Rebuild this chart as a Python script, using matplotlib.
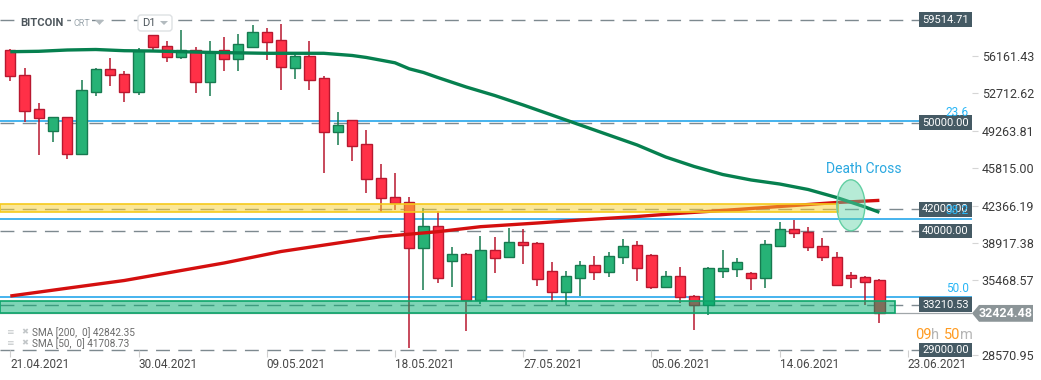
import pandas as pd
import matplotlib
matplotlib.use('Agg')
import matplotlib.pyplot as plt
import matplotlib.dates as mdates
import matplotlib.transforms as mtransforms
from matplotlib.patches import Rectangle, Ellipse, Polygon, FancyBboxPatch
from matplotlib.colors import to_rgba

plt.rcParams['font.family'] = ['Roboto', 'DejaVu Sans']

# daily BTC candles, 21.04.2021 - 21.06.2021
dates = pd.date_range('2021-04-21', '2021-06-21', freq='D')
opens = [56706, 54401, 51239, 49210, 50501, 47090, 52861, 54927, 54466, 52861,
         58089, 57075, 56088, 56706, 53783, 56706, 55849, 57010, 58338, 57628,
         55074, 56153, 54124, 49118, 50224, 48039, 44877, 43125, 42664, 38423,
         40479, 37279, 37870, 33656, 38266, 37593, 38976, 38884, 36330, 34421,
         35730, 36855, 36210, 37593, 38699, 37805, 34827, 35869, 34025, 33195,
         36357, 36487, 36118, 35657, 38662, 40175, 39898, 38662, 37648, 35989,
         35749, 35500]
highs = [56798, 55019, 51792, 50529, 50560, 53940, 55019, 55941, 54770, 56863,
         58100, 57536, 58550, 56955, 57536, 57932, 58181, 59011, 58707, 59076,
         56310, 57563, 54309, 50990, 50252, 49330, 46195, 45393, 43125, 42111,
         41889, 38570, 37989, 39557, 39437, 40322, 40202, 39031, 37160, 36357,
         37279, 37740, 38109, 39280, 39096, 37897, 36357, 36671, 34117, 36726,
         38266, 37528, 36210, 39188, 40875, 41032, 40359, 39345, 38054, 36238,
         35869, 35592]
lows = [53848, 50095, 47025, 48251, 46629, 47025, 52492, 53414, 51939, 52557,
        56706, 55627, 55849, 52769, 52492, 54797, 54797, 56983, 55784, 53018,
        54032, 53018, 45393, 47947, 46499, 43494, 41797, 41954, 29203, 34578,
        35251, 34882, 30825, 33287, 36173, 37528, 36975, 34974, 33499, 33195,
        34052, 35500, 35804, 36975, 35435, 34670, 34735, 33407, 30890, 32273,
        35712, 35804, 34578, 34735, 38570, 39400, 38201, 37279, 34993, 34735,
        33195, 31563]
closes = [54309, 51109, 50409, 50501, 47090, 53018, 54927, 54355, 52861, 56614,
          56955, 56088, 56706, 53783, 56549, 55849, 57232, 58338, 57471, 55166,
          56153, 53940, 49118, 49763, 47882, 44785, 43033, 42572, 38423, 40479,
          35657, 37870, 33656, 38266, 37574, 38976, 38755, 35565, 34421, 35869,
          36883, 36210, 37713, 38635, 36579, 34827, 35869, 33905, 33195, 36579,
          36579, 37132, 35657, 38792, 40175, 39806, 38570, 37593, 35039, 35657,
          35343, 32424.48]

sma50_dates = ['2021-04-21', '2021-04-23', '2021-04-25', '2021-04-27', '2021-04-29',
               '2021-05-01', '2021-05-05', '2021-05-09', '2021-05-13', '2021-05-15',
               '2021-05-16', '2021-05-18', '2021-05-19', '2021-05-20', '2021-05-21',
               '2021-05-23', '2021-05-25', '2021-05-27', '2021-05-30', '2021-06-01',
               '2021-06-04', '2021-06-06', '2021-06-08', '2021-06-10', '2021-06-12',
               '2021-06-14', '2021-06-16', '2021-06-18', '2021-06-20', '2021-06-21']
sma50_values = [56549, 56586, 56706, 56752, 56641, 56614, 56485, 56402, 56402, 56199,
                56015, 55526, 54973, 54632, 54171, 53295, 52511, 51635, 50252, 49330,
                47947, 46840, 45965, 45227, 44720, 44351, 43844, 43106, 42231, 41742]
sma200_dates = ['2021-04-21', '2021-04-25', '2021-04-29', '2021-05-03', '2021-05-06',
                '2021-05-10', '2021-05-14', '2021-05-17', '2021-05-21', '2021-05-24',
                '2021-05-28', '2021-05-31', '2021-06-04', '2021-06-07', '2021-06-11',
                '2021-06-15', '2021-06-18', '2021-06-21']
sma200_values = [34025, 34744, 35454, 36376, 37067, 38127, 38911, 39493, 39954, 40415,
                 40755, 41032, 41355, 41650, 42000, 42369, 42646, 42842]

level_values = [59514.71, 50000.00, 42000.00, 40000.00, 33210.53, 29000.00]
fib_labels = ['23.6', '38.2', '50.0']
fib_prices = [50118, 41100, 33892]
yellow_zone = (41746, 42485)
green_zone = (32414, 33578)
price_ticks = [56161.43, 52712.62, 49263.81, 45815.00, 42366.19, 38917.38, 35468.57, 28570.95]
date_ticks = pd.date_range('2021-04-21', periods=8, freq='9D')
last_price = 32424.48

W, H = 1041, 380
fig = plt.figure(figsize=(W / 100, H / 100), dpi=100)
ax = fig.add_axes([0, 1 - 357 / H, 972 / W, 357 / H])
to_fig = mtransforms.Affine2D().scale(1 / W, -1 / H).translate(0, 1) + fig.transFigure

x = mdates.date2num(dates)
x0 = x[0]
xmin, xmax = x0 - 0.723, x0 + 67.5
ymin, ymax = 28400.5, 61315.9
ax.set_xlim(xmin, xmax)
ax.set_ylim(ymin, ymax)
px_y = (ymax - ymin) / 357  # price per pixel

# horizontal levels
for lv in level_values:
    ax.axhline(lv, color='#7d898f', lw=1.0, ls=(0, (10, 6)), zorder=1)
for fp in fib_prices:
    ax.axhline(fp, color='#139fea', lw=1.1, zorder=1.5)
ax.axhline(last_price, color='#a0a6a9', lw=0.9, zorder=1.5)

# candles
up_face, up_edge = '#26b276', '#177a50'
dn_face, dn_edge = '#ff3047', '#b8182f'
for xi, o, h, l, c in zip(x, opens, highs, lows, closes):
    up = c >= o
    edge = up_edge if up else dn_edge
    face = up_face if up else dn_face
    ax.vlines(xi, l, h, color=edge, lw=1.1, zorder=2)
    ax.bar(xi, abs(c - o), bottom=min(o, c), width=0.72, color=face,
           edgecolor=edge, linewidth=1.0, zorder=2.1)

# moving averages
ax.plot(mdates.date2num(pd.to_datetime(sma200_dates)), sma200_values,
        color='#d40f0f', lw=2.4, zorder=3, solid_capstyle='butt')
ax.plot(mdates.date2num(pd.to_datetime(sma50_dates)), sma50_values,
        color='#06804f', lw=2.4, zorder=3, solid_capstyle='butt')

# support / resistance zones
yellow_end = x0 + 58.08
green_end = x0 + 62.1
ax.add_patch(Rectangle((xmin, yellow_zone[0]), yellow_end - xmin, yellow_zone[1] - yellow_zone[0],
                       facecolor=to_rgba('#f9d131', 0.5), edgecolor='#f5c91c', lw=1.2, zorder=4))
ax.add_patch(Rectangle((xmin, green_zone[0]), green_end - xmin, green_zone[1] - green_zone[0],
                       facecolor=to_rgba('#00ad6f', 0.5), edgecolor='#0ea56b', lw=1.2, zorder=4))

# death cross marker
ax.add_patch(Ellipse((x0 + 59.0, 42387), 1.97, 51 * px_y,
                     facecolor=to_rgba('#5fd3a4', 0.45), edgecolor='#62cfa3', lw=1.0, zorder=5))
ax.text(x0 + 59.93, 45730, 'Death Cross', color='#2aa8e0', fontsize=10,
        ha='center', va='center', zorder=6)

# level label boxes on the right
blend = mtransforms.blended_transform_factory(ax.transAxes, ax.transData)
for lv in level_values:
    ax.add_patch(Rectangle((919 / 972, lv - 7 * px_y), 53 / 972, 14.5 * px_y,
                           transform=blend, facecolor='#455a64', edgecolor='none',
                           zorder=6, clip_on=False))
    ax.text(945.5 / 972, lv, f'{lv:.2f}', transform=blend, color='white', fontsize=8,
            ha='center', va='center', zorder=7)
for lab, fp in zip(fib_labels, fib_prices):
    ax.text(969 / 972, fp + 9 * px_y, lab, transform=blend, color='#29b6f6', fontsize=8.5,
            ha='right', va='center', zorder=8)

# axes styling
for s in ax.spines.values():
    s.set_visible(False)
ax.yaxis.tick_right()
ax.set_yticks(price_ticks)
ax.set_yticklabels([f'{v:.2f}' for v in price_ticks])
ax.tick_params(axis='y', length=4, color='#d5d5d5', labelsize=9, labelcolor='#3a3a3a', pad=3)
ax.set_xticks(mdates.date2num(date_ticks))
ax.set_xticklabels([d.strftime('%d.%m.%Y') for d in date_ticks], ha='left')
ax.tick_params(axis='x', direction='in', length=5, color='#d0d0d0', labelsize=8.5,
               labelcolor='#474747', pad=1)

# current price tag
tag_tr = mtransforms.blended_transform_factory(fig.transFigure, ax.transData)
tag = Polygon([(972 / W, last_price), (979 / W, last_price + 8.4 * px_y),
               (1033 / W, last_price + 8.4 * px_y), (1033 / W, last_price - 8.4 * px_y),
               (979 / W, last_price - 8.4 * px_y)], closed=True, transform=tag_tr,
              facecolor='#8c9598', edgecolor='none', clip_on=False, zorder=9)
fig.add_artist(tag)
fig.text(1006 / W, last_price, f'{last_price:.2f}', transform=tag_tr, color='white',
         fontsize=9, fontweight='bold', ha='center', va='center', zorder=10)

# candle countdown
orange, grey = '#ff9b21', '#b5b5b5'
for xp, s, col in [(915, '09', orange), (931, 'h', grey), (944, '50', orange), (960, 'm', grey)]:
    fig.text(xp, 335, s, transform=to_fig, color=col, fontsize=10.5, ha='left', va='center')

# header
fig.text(20, 23, 'BITCOIN', transform=to_fig, color='#4d565c', fontsize=8, fontweight='bold',
         ha='left', va='center', bbox=dict(facecolor='white', edgecolor='none', pad=1.5))
fig.text(73, 24, 'CRT', transform=to_fig, color='#9ba6ad', fontsize=6.5, ha='left', va='center',
         bbox=dict(facecolor='white', edgecolor='none', pad=1.5))
fig.add_artist(Polygon([(95, 20), (104, 20), (99.5, 25)], closed=True, transform=to_fig,
                       facecolor='#b3bbbf', edgecolor='none'))
fig.add_artist(FancyBboxPatch((138, 15), 34, 16, boxstyle='round,pad=0,rounding_size=3',
                              transform=to_fig, facecolor='white', edgecolor='#dde1e3', lw=1))
fig.text(142, 23, 'D1', transform=to_fig, color='#4d565c', fontsize=8, ha='left', va='center')
fig.add_artist(Polygon([(160, 21), (168, 21), (164, 25)], closed=True, transform=to_fig,
                       facecolor='#b3bbbf', edgecolor='none'))

# indicator legend
for yp, s in [(332.7, 'SMA [200,  0] 42842.35'), (343.3, 'SMA [50,  0] 41708.73')]:
    fig.text(6, yp, '\u2261', transform=to_fig, color='#c3c7c9', fontsize=6.5, ha='left', va='center')
    fig.text(21, yp, '\u2716', transform=to_fig, color='#c3c7c9', fontsize=6, ha='left', va='center')
    fig.text(32, yp, s, transform=to_fig, color='#6b6b6b', fontsize=7.2, ha='left', va='center')

fig.savefig('out.png', dpi=100, facecolor='white')
